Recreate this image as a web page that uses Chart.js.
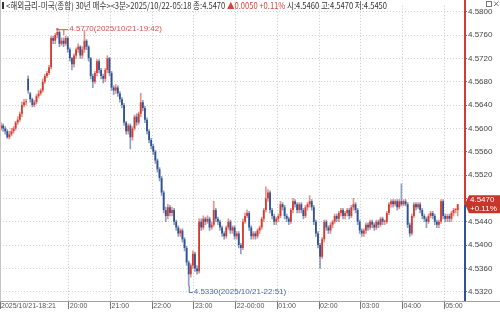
<!DOCTYPE html>
<html>
<head>
<meta charset="utf-8">
<script src="https://cdn.jsdelivr.net/npm/chart.js@4.4.1/dist/chart.umd.min.js"></script>
<style>
  html, body { margin: 0; padding: 0; background: #fff; }
  #wrap { width: 500px; height: 314px; }
</style>
</head>
<body>
<div id="wrap"><canvas id="chart" width="500" height="314"></canvas></div>
<script>
// 3분봉 시/고/저/종 (2025/10/21 18:21 ~ 2025/10/22 05:18)
const opens = [
  4.5600,4.5605,4.5600,4.5595,4.5585,4.5590,4.5595,4.5600,4.5610,4.5615,
  4.5625,4.5640,4.5645,4.5685,4.5660,4.5650,4.5640,4.5645,4.5655,4.5660,
  4.5665,4.5680,4.5690,4.5695,4.5705,4.5755,4.5750,4.5760,4.5765,4.5745,
  4.5750,4.5745,4.5755,4.5735,4.5720,4.5710,4.5725,4.5735,4.5740,4.5725,
  4.5735,4.5750,4.5740,4.5720,4.5690,4.5680,4.5695,4.5715,4.5700,4.5690,
  4.5685,4.5700,4.5720,4.5695,4.5670,4.5665,4.5670,4.5660,4.5650,4.5640,
  4.5610,4.5595,4.5605,4.5585,4.5600,4.5620,4.5610,4.5625,4.5645,4.5635,
  4.5615,4.5595,4.5580,4.5570,4.5560,4.5545,4.5530,4.5515,4.5490,4.5460,
  4.5450,4.5465,4.5455,4.5460,4.5440,4.5430,4.5420,4.5425,4.5410,4.5395,
  4.5370,4.5350,4.5365,4.5385,4.5360,4.5355,4.5440,4.5430,4.5445,4.5440,
  4.5445,4.5430,4.5435,4.5460,4.5445,4.5440,4.5430,4.5420,4.5415,4.5430,
  4.5440,4.5425,4.5430,4.5415,4.5420,4.5400,4.5395,4.5440,4.5450,4.5455,
  4.5430,4.5415,4.5420,4.5415,4.5425,4.5430,4.5445,4.5460,4.5480,4.5490,
  4.5460,4.5450,4.5440,4.5445,4.5450,4.5470,4.5465,4.5450,4.5445,4.5440,
  4.5460,4.5475,4.5470,4.5460,4.5470,4.5460,4.5450,4.5465,4.5470,4.5475,
  4.5465,4.5440,4.5420,4.5400,4.5380,4.5410,4.5440,4.5430,4.5425,4.5435,
  4.5440,4.5450,4.5445,4.5455,4.5460,4.5450,4.5455,4.5460,4.5450,4.5465,
  4.5470,4.5460,4.5440,4.5425,4.5420,4.5425,4.5435,4.5430,4.5440,4.5435,
  4.5430,4.5440,4.5435,4.5445,4.5440,4.5440,4.5455,4.5470,4.5475,4.5470,
  4.5475,4.5465,4.5475,4.5470,4.5475,4.5470,4.5435,4.5420,4.5450,4.5470,
  4.5465,4.5470,4.5460,4.5450,4.5445,4.5440,4.5450,4.5455,4.5450,4.5440,
  4.5435,4.5440,4.5475,4.5450,4.5445,4.5450,4.5445,4.5455,4.5460,4.5460
];
const highs = [
  4.5610,4.5608,4.5603,4.5598,4.5595,4.5600,4.5603,4.5612,4.5620,4.5628,
  4.5645,4.5650,4.5650,4.5690,4.5662,4.5652,4.5648,4.5658,4.5665,4.5668,
  4.5685,4.5693,4.5698,4.5708,4.5758,4.5758,4.5763,4.5770,4.5767,4.5755,
  4.5755,4.5758,4.5757,4.5738,4.5722,4.5728,4.5738,4.5745,4.5742,4.5740,
  4.5768,4.5752,4.5742,4.5722,4.5693,4.5698,4.5718,4.5718,4.5703,4.5693,
  4.5703,4.5725,4.5722,4.5698,4.5673,4.5675,4.5673,4.5663,4.5653,4.5643,
  4.5612,4.5608,4.5608,4.5603,4.5623,4.5625,4.5628,4.5660,4.5648,4.5638,
  4.5618,4.5598,4.5583,4.5573,4.5563,4.5548,4.5533,4.5518,4.5493,4.5465,
  4.5470,4.5468,4.5465,4.5463,4.5443,4.5433,4.5428,4.5428,4.5413,4.5398,
  4.5373,4.5368,4.5390,4.5388,4.5365,4.5445,4.5445,4.5450,4.5448,4.5450,
  4.5448,4.5440,4.5475,4.5463,4.5448,4.5443,4.5433,4.5423,4.5433,4.5445,
  4.5443,4.5433,4.5433,4.5423,4.5423,4.5403,4.5445,4.5455,4.5460,4.5458,
  4.5433,4.5423,4.5423,4.5428,4.5433,4.5448,4.5463,4.5500,4.5495,4.5493,
  4.5463,4.5453,4.5448,4.5453,4.5475,4.5473,4.5468,4.5453,4.5448,4.5463,
  4.5480,4.5478,4.5473,4.5473,4.5473,4.5463,4.5468,4.5473,4.5485,4.5478,
  4.5468,4.5443,4.5423,4.5403,4.5413,4.5443,4.5443,4.5433,4.5438,4.5443,
  4.5453,4.5453,4.5458,4.5463,4.5463,4.5458,4.5463,4.5463,4.5468,4.5480,
  4.5473,4.5463,4.5443,4.5428,4.5428,4.5438,4.5438,4.5443,4.5443,4.5438,
  4.5443,4.5443,4.5448,4.5448,4.5443,4.5458,4.5473,4.5478,4.5478,4.5478,
  4.5478,4.5478,4.5505,4.5478,4.5478,4.5473,4.5438,4.5453,4.5473,4.5473,
  4.5473,4.5473,4.5463,4.5453,4.5448,4.5453,4.5458,4.5458,4.5453,4.5443,
  4.5443,4.5478,4.5478,4.5453,4.5453,4.5453,4.5458,4.5463,4.5463,4.5470
];
const lows = [
  4.5597,4.5595,4.5590,4.5583,4.5582,4.5587,4.5592,4.5597,4.5607,4.5612,
  4.5620,4.5637,4.5640,4.5660,4.5645,4.5637,4.5637,4.5642,4.5652,4.5657,
  4.5662,4.5677,4.5687,4.5692,4.5702,4.5745,4.5745,4.5755,4.5740,4.5742,
  4.5740,4.5742,4.5730,4.5715,4.5700,4.5705,4.5720,4.5730,4.5720,4.5720,
  4.5730,4.5735,4.5715,4.5685,4.5670,4.5677,4.5690,4.5695,4.5685,4.5678,
  4.5680,4.5695,4.5690,4.5665,4.5658,4.5660,4.5655,4.5645,4.5635,4.5605,
  4.5590,4.5590,4.5565,4.5580,4.5597,4.5605,4.5607,4.5620,4.5630,4.5610,
  4.5590,4.5575,4.5565,4.5555,4.5540,4.5525,4.5510,4.5485,4.5455,4.5440,
  4.5445,4.5450,4.5450,4.5435,4.5425,4.5415,4.5415,4.5405,4.5390,4.5365,
  4.5330,4.5345,4.5360,4.5355,4.5350,4.5352,4.5425,4.5427,4.5435,4.5437,
  4.5425,4.5427,4.5432,4.5440,4.5435,4.5425,4.5415,4.5410,4.5412,4.5427,
  4.5420,4.5420,4.5410,4.5410,4.5395,4.5385,4.5392,4.5437,4.5447,4.5425,
  4.5410,4.5410,4.5410,4.5412,4.5420,4.5427,4.5440,4.5457,4.5475,4.5455,
  4.5445,4.5435,4.5435,4.5440,4.5447,4.5460,4.5445,4.5440,4.5435,4.5437,
  4.5455,4.5465,4.5455,4.5455,4.5455,4.5445,4.5447,4.5460,4.5465,4.5460,
  4.5435,4.5415,4.5395,4.5360,4.5377,4.5405,4.5425,4.5420,4.5420,4.5430,
  4.5437,4.5440,4.5440,4.5450,4.5445,4.5445,4.5450,4.5445,4.5447,4.5460,
  4.5455,4.5435,4.5420,4.5415,4.5415,4.5420,4.5425,4.5427,4.5430,4.5425,
  4.5427,4.5430,4.5432,4.5435,4.5435,4.5437,4.5452,4.5465,4.5465,4.5467,
  4.5460,4.5462,4.5467,4.5467,4.5467,4.5430,4.5415,4.5417,4.5447,4.5460,
  4.5462,4.5455,4.5445,4.5440,4.5430,4.5437,4.5447,4.5445,4.5435,4.5430,
  4.5430,4.5437,4.5445,4.5440,4.5440,4.5440,4.5440,4.5450,4.5455,4.5450
];
const closes = [
  4.5605,4.5600,4.5595,4.5585,4.5590,4.5595,4.5600,4.5610,4.5615,4.5625,
  4.5640,4.5645,4.5645,4.5665,4.5650,4.5640,4.5645,4.5655,4.5660,4.5665,
  4.5680,4.5690,4.5695,4.5705,4.5755,4.5750,4.5760,4.5765,4.5745,4.5750,
  4.5745,4.5755,4.5735,4.5720,4.5710,4.5725,4.5735,4.5740,4.5725,4.5735,
  4.5750,4.5740,4.5720,4.5690,4.5680,4.5695,4.5715,4.5700,4.5690,4.5685,
  4.5700,4.5720,4.5695,4.5670,4.5665,4.5670,4.5660,4.5650,4.5640,4.5610,
  4.5595,4.5605,4.5585,4.5600,4.5620,4.5610,4.5625,4.5645,4.5635,4.5615,
  4.5595,4.5580,4.5570,4.5560,4.5545,4.5530,4.5515,4.5490,4.5460,4.5450,
  4.5465,4.5455,4.5460,4.5440,4.5430,4.5420,4.5425,4.5410,4.5395,4.5370,
  4.5350,4.5365,4.5385,4.5360,4.5355,4.5440,4.5430,4.5445,4.5440,4.5445,
  4.5430,4.5435,4.5460,4.5445,4.5440,4.5430,4.5420,4.5415,4.5430,4.5440,
  4.5425,4.5430,4.5415,4.5420,4.5400,4.5395,4.5440,4.5450,4.5455,4.5430,
  4.5415,4.5420,4.5415,4.5425,4.5430,4.5445,4.5460,4.5480,4.5490,4.5460,
  4.5450,4.5440,4.5445,4.5450,4.5470,4.5465,4.5450,4.5445,4.5440,4.5460,
  4.5475,4.5470,4.5460,4.5470,4.5460,4.5450,4.5465,4.5470,4.5475,4.5465,
  4.5440,4.5420,4.5400,4.5380,4.5410,4.5440,4.5430,4.5425,4.5435,4.5440,
  4.5450,4.5445,4.5455,4.5460,4.5450,4.5455,4.5460,4.5450,4.5465,4.5470,
  4.5460,4.5440,4.5425,4.5420,4.5425,4.5435,4.5430,4.5440,4.5435,4.5430,
  4.5440,4.5435,4.5445,4.5440,4.5440,4.5455,4.5470,4.5475,4.5470,4.5475,
  4.5465,4.5475,4.5470,4.5475,4.5470,4.5435,4.5420,4.5450,4.5470,4.5465,
  4.5470,4.5460,4.5450,4.5445,4.5440,4.5450,4.5455,4.5450,4.5440,4.5435,
  4.5440,4.5475,4.5450,4.5445,4.5450,4.5445,4.5455,4.5460,4.5460,4.5470
];

// 시간축
const startTime = new Date(2025, 9, 21, 18, 21);
const barMinutes = 3;
const emptySlots = 3; // 오른쪽 여백 (빈 봉)
const tickTimes = ["18:21", "20:00", "21:00", "22:00", "23:00", "00:00", "01:00", "02:00", "03:00", "04:00", "05:00"];
const tickTexts = ["2025/10/21-18:21", "20:00", "21:00", "22:00", "23:00", "22-00:00", "01:00", "02:00", "03:00", "04:00", "05:00"];
const yTicks = [4.5320, 4.5360, 4.5400, 4.5440, 4.5480, 4.5520, 4.5560, 4.5600, 4.5640, 4.5680, 4.5720, 4.5760, 4.5800];

const title = "<해외금리-미국(종합) 30년 매수><3분>";
const changeText = "▲0.0050 +0.11%";
const changeTag = "+0.11%";

const UP = "#d43b2f";
const DOWN = "#2f5294";
const UP_WICK = "rgba(212,59,47,0.55)";
const DOWN_WICK = "rgba(47,82,148,0.55)";

function pad(n) { return String(n).padStart(2, "0"); }
const times = [], stamps = [];
for (let i = 0; i < closes.length + emptySlots; i++) {
    const d = new Date(startTime.getTime() + i * barMinutes * 60000);
    times.push(pad(d.getHours()) + ":" + pad(d.getMinutes()));
    stamps.push(d.getFullYear() + "/" + pad(d.getMonth() + 1) + "/" + pad(d.getDate()) + "-" + pad(d.getHours()) + ":" + pad(d.getMinutes()));
}

const isUp = closes.map((c, i) => c >= opens[i]);
const wickData = lows.map((l, i) => [l, highs[i]]);
const bodyData = opens.map((o, i) => [o, closes[i]]);

const last = closes.length - 1;
const hiIdx = highs.indexOf(Math.max(...highs));
const loIdx = lows.indexOf(Math.min(...lows));

function isHourTick(i) {
    return i > 0 && tickTimes.indexOf(times[i]) >= 0;
}

// 제목, 현재가 표시, 최고/최저 표시
const overlay = {
    id: "overlay",
    afterDraw(chart) {
        const ctx = chart.ctx;
        const area = chart.chartArea;
        const xs = chart.scales.x;
        const ys = chart.scales.y;
        ctx.save();

        // 왼쪽 테두리, 아래쪽 선
        ctx.lineWidth = 1;
        ctx.strokeStyle = "#c4c4c4";
        ctx.beginPath();
        ctx.moveTo(0.5, 0); ctx.lineTo(0.5, area.bottom);
        ctx.stroke();
        ctx.strokeStyle = "#a0a0a0";
        ctx.beginPath();
        ctx.moveTo(0, area.bottom + 0.5); ctx.lineTo(chart.width, area.bottom + 0.5);
        ctx.stroke();

        // 오른쪽 가격축 (현재가 위 빨강, 아래 파랑)
        const py = ys.getPixelForValue(closes[last]);
        ctx.lineWidth = 2;
        ctx.strokeStyle = UP;
        ctx.beginPath(); ctx.moveTo(area.right, 0); ctx.lineTo(area.right, py); ctx.stroke();
        ctx.strokeStyle = DOWN;
        ctx.beginPath(); ctx.moveTo(area.right, py); ctx.lineTo(area.right, area.bottom); ctx.stroke();

        // 현재가 태그
        ctx.fillStyle = "#c8352a";
        ctx.beginPath();
        ctx.moveTo(area.right, py);
        ctx.lineTo(area.right + 4, py - 9);
        ctx.lineTo(chart.width, py - 9);
        ctx.lineTo(chart.width, py + 9);
        ctx.lineTo(area.right + 4, py + 9);
        ctx.closePath();
        ctx.fill();
        ctx.fillStyle = "#fff";
        ctx.font = "8px 'Liberation Sans', sans-serif";
        ctx.textBaseline = "middle";
        ctx.textAlign = "left";
        ctx.fillText(closes[last].toFixed(4), area.right + 5, py - 4);
        ctx.fillText(changeTag, area.right + 5, py + 4.5);

        // 최고가
        const hx = xs.getPixelForValue(hiIdx);
        const hy = ys.getPixelForValue(highs[hiIdx]);
        ctx.strokeStyle = "#d0554a";
        ctx.fillStyle = "#d0554a";
        ctx.lineWidth = 1;
        ctx.beginPath();
        ctx.moveTo(hx, hy + 0.5); ctx.lineTo(hx + 11, hy + 0.5);
        ctx.moveTo(hx + 6.5, hy); ctx.lineTo(hx + 6.5, hy + 6);
        ctx.stroke();
        ctx.fillRect(hx - 1, hy - 1, 2, 2);
        ctx.fillText(highs[hiIdx].toFixed(4) + "(" + stamps[hiIdx] + ")", hx + 12, hy);

        // 최저가
        const lx = xs.getPixelForValue(loIdx);
        const ly = ys.getPixelForValue(lows[loIdx]);
        ctx.strokeStyle = "#4a6aa8";
        ctx.fillStyle = "#4a6aa8";
        ctx.beginPath();
        ctx.moveTo(lx + 0.5, ly); ctx.lineTo(lx + 0.5, ly + 6.5); ctx.lineTo(lx + 4, ly + 6.5);
        ctx.stroke();
        ctx.fillText(lows[loIdx].toFixed(4) + "(" + stamps[loIdx] + ")", lx + 5, ly + 6);

        // 상단 제목
        const parts = [
            [title + stamps[last] + " 종:" + closes[last].toFixed(4) + " ", "#333"],
            [changeText + " ", "#d0463a"],
            ["시:" + opens[last].toFixed(4) + " 고:" + highs[last].toFixed(4) + " 저:" + lows[last].toFixed(4), "#333"]
        ];
        ctx.font = "9px 'Noto Sans CJK KR', sans-serif";
        let total = 0;
        parts.forEach(p => { total += ctx.measureText(p[0]).width; });
        const sx = 381 / total;
        ctx.fillStyle = "#333";
        ctx.fillRect(2, 2, 2, 7);
        ctx.save();
        ctx.translate(6, 6);
        ctx.scale(sx, 1);
        let x = 0;
        parts.forEach(p => {
            ctx.fillStyle = p[1];
            ctx.fillText(p[0], x, 0);
            x += ctx.measureText(p[0]).width;
        });
        ctx.restore();

        // 우상단 아이콘
        ctx.fillStyle = "#fff";
        ctx.fillRect(485, 0, 15, 8);
        ctx.strokeStyle = "#777";
        ctx.lineWidth = 1;
        ctx.strokeRect(486.5, 1.5, 5, 5);
        ctx.beginPath();
        ctx.moveTo(494, 1.5); ctx.lineTo(498.5, 6);
        ctx.moveTo(498.5, 1.5); ctx.lineTo(494, 6);
        ctx.stroke();
        ctx.restore();
    }
};

Chart.defaults.font.family = "'Liberation Sans', sans-serif";

new Chart(document.getElementById("chart"), {
    type: "bar",
    data: {
        labels: times,
        datasets: [
            {
                data: wickData,
                backgroundColor: isUp.map(u => u ? UP_WICK : DOWN_WICK),
                barThickness: 1,
                grouped: false
            },
            {
                data: bodyData,
                backgroundColor: isUp.map(u => u ? UP : DOWN),
                barPercentage: 0.85,
                categoryPercentage: 1,
                minBarLength: 1,
                grouped: false
            }
        ]
    },
    options: {
        responsive: false,
        animation: false,
        devicePixelRatio: 1,
        layout: { padding: 0 },
        plugins: { legend: { display: false }, tooltip: { enabled: false } },
        scales: {
            x: {
                offset: true,
                grid: {
                    offset: true,
                    color: c => isHourTick(c.index) ? "#c8c8c8" : "rgba(0,0,0,0)",
                    tickColor: c => tickTimes.indexOf(times[c.index]) >= 0 ? "#777" : "rgba(0,0,0,0)",
                    tickLength: 8
                },
                border: { display: false, dash: [1, 2] },
                ticks: {
                    autoSkip: false,
                    maxRotation: 0,
                    align: "start",
                    padding: -7,
                    color: "#555",
                    font: { size: 7 },
                    callback: (v, i) => {
                        const k = tickTimes.indexOf(times[i]);
                        return k >= 0 ? tickTexts[k] : "";
                    }
                },
                afterFit: s => { s.height = 13; }
            },
            y: {
                position: "right",
                min: 4.53042,
                max: 4.58101,
                afterBuildTicks: s => { s.ticks = yTicks.map(v => ({ value: v })); },
                grid: { color: "#d2d2d2", tickColor: "#777", tickLength: 2 },
                border: { display: false, dash: [1, 2] },
                ticks: {
                    padding: 1,
                    color: "#444",
                    font: { size: 8 },
                    callback: v => v.toFixed(4)
                },
                afterFit: s => { s.width = 35; }
            }
        }
    },
    plugins: [overlay]
});
</script>
</body>
</html>
